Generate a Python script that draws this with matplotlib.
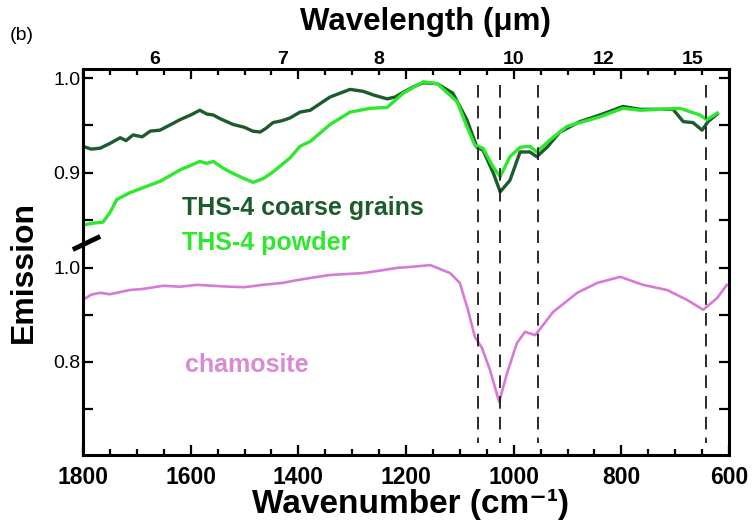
import matplotlib
matplotlib.use("Agg")
import matplotlib.pyplot as plt
from matplotlib.lines import Line2D
from matplotlib.ticker import MultipleLocator, FixedLocator

plt.rcParams['font.family'] = ['Liberation Sans', 'DejaVu Sans']

# ---------------- data ----------------
coarse_wn = [1800, 1785, 1768, 1750, 1731, 1720, 1707, 1690, 1675, 1657, 1640, 1620, 1600,
             1583, 1570, 1558, 1545, 1521, 1500, 1485, 1471, 1460, 1447, 1430, 1415, 1397,
             1378, 1341, 1304, 1280, 1260, 1235, 1220, 1205, 1185, 1168, 1142, 1113, 1087,
             1068, 1057, 1038, 1025, 1007, 988, 970, 957, 938, 914, 877, 840, 797, 765,
             704, 685, 667, 650, 639, 622]
coarse_em = [0.928, 0.925, 0.926, 0.931, 0.937, 0.934, 0.940, 0.938, 0.944, 0.945, 0.950, 0.956, 0.961,
             0.966, 0.962, 0.961, 0.957, 0.951, 0.948, 0.944, 0.943, 0.947, 0.953, 0.955, 0.958, 0.964,
             0.966, 0.980, 0.988, 0.986, 0.982, 0.978, 0.980, 0.985, 0.991, 0.995, 0.994, 0.984, 0.956,
             0.927, 0.924, 0.900, 0.880, 0.892, 0.922, 0.922, 0.917, 0.927, 0.943, 0.954, 0.961, 0.970, 0.967,
             0.967, 0.954, 0.953, 0.945, 0.954, 0.962]

powder_wn = [1800, 1780, 1763, 1750, 1737, 1713, 1690, 1657, 1620, 1583, 1570, 1558, 1540,
             1527, 1505, 1484, 1465, 1447, 1415, 1397, 1378, 1341, 1304, 1267, 1235, 1205,
             1168, 1142, 1105, 1087, 1072, 1057, 1038, 1025, 1007, 988, 970, 957, 932, 901,
             840, 797, 765, 691, 654, 641, 622]
powder_em = [0.845, 0.847, 0.848, 0.858, 0.872, 0.879, 0.884, 0.891, 0.903, 0.912, 0.910, 0.912, 0.905,
             0.901, 0.895, 0.890, 0.894, 0.901, 0.916, 0.928, 0.933, 0.951, 0.964, 0.968, 0.969, 0.984,
             0.996, 0.994, 0.975, 0.949, 0.929, 0.926, 0.906, 0.896, 0.917, 0.927, 0.928, 0.922, 0.935, 0.949,
             0.959, 0.968, 0.966, 0.968, 0.961, 0.956, 0.963]

cham_wn = [1800, 1785, 1768, 1750, 1713, 1690, 1651, 1620, 1588, 1560, 1527, 1500, 1466, 1430,
           1402, 1370, 1341, 1310, 1280, 1250, 1217, 1193, 1155, 1118, 1100, 1085, 1072, 1059,
           1044, 1027, 1012, 994, 979, 960, 945, 927, 882, 845, 802, 760, 715, 678, 648, 622, 604]
cham_em = [0.932, 0.943, 0.947, 0.944, 0.953, 0.955, 0.962, 0.960, 0.964, 0.962, 0.960, 0.959, 0.964, 0.968,
           0.974, 0.980, 0.985, 0.987, 0.989, 0.994, 1.000, 1.002, 1.006, 0.989, 0.968, 0.911, 0.853, 0.830,
           0.783, 0.715, 0.777, 0.840, 0.864, 0.857, 0.879, 0.906, 0.947, 0.968, 0.981, 0.964, 0.953, 0.932,
           0.911, 0.936, 0.964]

band_positions = [1066, 1025, 954, 642]
wavelength_ticks = [6, 7, 8, 10, 12, 15]
series_labels = ["THS-4 coarse grains", "THS-4 powder", "chamosite"]

c_dark = '#1c5c2c'
c_light = '#2ee82e'
c_pink = '#d67ad6'

W, H = 752, 528
fig = plt.figure(figsize=(W / 100, H / 100), dpi=100)

L, R, T, B, BRK = 83, 729, 69, 455, 243
def fx(px): return px / W
def fy(py): return 1 - py / H

ax_up = fig.add_axes([fx(L), fy(BRK), fx(R) - fx(L), fy(T) - fy(BRK)])
ax_lo = fig.add_axes([fx(L), fy(B), fx(R) - fx(L), fy(BRK) - fy(B)])

# top wavelength axis (created first: twiny resets tick sides of the host)
ax_t = ax_up.twiny()

ax_up.plot(coarse_wn, coarse_em, color=c_dark, lw=2.4, solid_joinstyle='round')
ax_up.plot(powder_wn, powder_em, color=c_light, lw=2.4, solid_joinstyle='round')
ax_lo.plot(cham_wn, cham_em, color=c_pink, lw=1.9, solid_joinstyle='round')

# dashed band lines running through both panels
for wn in band_positions:
    ax_up.axvline(wn, ymin=0, ymax=(BRK - 82) / (BRK - T), color='#1a1a1a', lw=1.3, ls=(0, (7, 4.5)))
    ax_lo.axvline(wn, ymin=(B - 443) / (B - BRK), ymax=1, color='#1a1a1a', lw=1.3, ls=(4, (7, 4.5)))

for ax in (ax_up, ax_lo):
    ax.set_xlim(1800, 600)
    for s in ax.spines.values():
        s.set_linewidth(2.2)
    ax.xaxis.set_major_locator(MultipleLocator(200))
    ax.xaxis.set_minor_locator(MultipleLocator(50))
    ax.tick_params(which='both', direction='in', width=1.6, left=True, right=True)
    ax.tick_params(which='major', length=7)
    ax.tick_params(which='minor', length=4)
    ax.tick_params(axis='y', which='both', length=7)
    ax.tick_params(axis='y', labelsize=14, pad=2)

ax_up.set_ylim(0.826, 1.0095)
ax_up.yaxis.set_major_locator(FixedLocator([0.9, 1.0]))
ax_up.yaxis.set_minor_locator(FixedLocator([0.85, 0.95]))
ax_up.set_yticklabels(['0.9', '1.0'])
ax_up.spines['bottom'].set_visible(False)
ax_up.tick_params(axis='x', which='both', bottom=False, top=True, labelbottom=False, labeltop=False)

ax_lo.set_ylim(0.602, 1.053)
ax_lo.yaxis.set_major_locator(FixedLocator([0.8, 1.0]))
ax_lo.yaxis.set_minor_locator(FixedLocator([0.7, 0.9]))
ax_lo.set_yticklabels(['0.8', '1.0'])
ax_lo.spines['top'].set_visible(False)
ax_lo.tick_params(axis='x', which='both', top=False, bottom=True)
ax_lo.tick_params(axis='x', labelsize=16.5, pad=8)
for lab in ax_lo.get_xticklabels():
    lab.set_fontweight('bold')

ax_t.set_xlim(1800, 600)
ax_t.set_xticks([1e4 / w for w in wavelength_ticks])
ax_t.set_xticklabels([str(w) for w in wavelength_ticks], fontweight='bold', fontsize=14)
ax_t.xaxis.set_minor_locator(FixedLocator([]))
ax_t.tick_params(axis='x', which='both', length=0, pad=1)
for s in ax_t.spines.values():
    s.set_visible(False)

# break mark
fig.add_artist(Line2D([fx(75), fx(98)], [fy(248.5), fy(237.5)], color='black', lw=3.5))

# labels
fig.text(fx(182), fy(208), series_labels[0], color=c_dark, fontsize=18, fontweight='bold', va='center')
fig.text(fx(182), fy(243), series_labels[1], color=c_light, fontsize=18, fontweight='bold', va='center')
fig.text(fx(185), fy(365), series_labels[2], color='#d98ad2', fontsize=18, fontweight='bold', va='center')

fig.text(fx(425), fy(22), 'Wavelength (μm)', fontsize=22.5, fontweight='bold', ha='center', va='center')
fig.text(fx(411), fy(505), 'Wavenumber (cm⁻¹)', fontsize=24, fontweight='bold',
         ha='center', va='center')
fig.text(fx(24), fy(272), 'Emission', fontsize=23, fontweight='bold', rotation=90, ha='center', va='center')
fig.text(fx(10), fy(35), '(b)', fontsize=14, ha='left', va='center')

fig.savefig('out.png', dpi=100)
